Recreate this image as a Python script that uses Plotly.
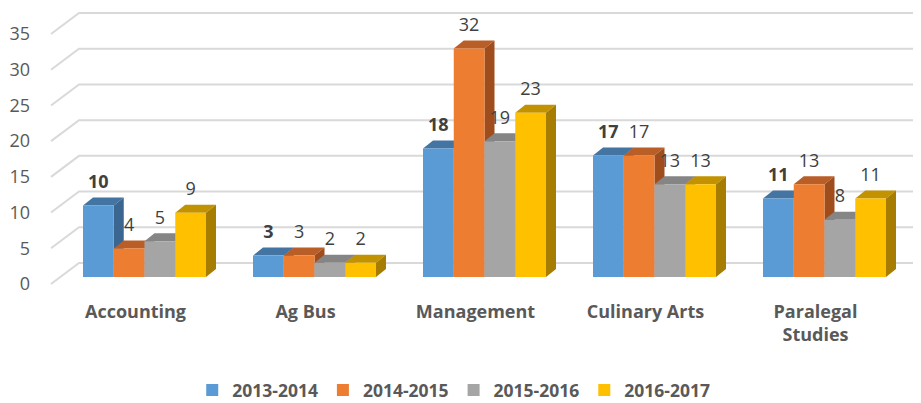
import plotly.graph_objects as go

# ---------------- data ----------------
categories = ["Accounting", "Ag Bus", "Management", "Culinary Arts", "Paralegal<br>Studies"]
series_names = ["2013-2014", "2014-2015", "2015-2016", "2016-2017"]
values_2013_2014 = [10, 3, 18, 17, 11]
values_2014_2015 = [4, 3, 32, 17, 13]
values_2015_2016 = [5, 2, 19, 13, 8]
values_2016_2017 = [9, 2, 23, 13, 11]
y_tick_values = [0, 5, 10, 15, 20, 25, 30, 35]

series_values = [values_2013_2014, values_2014_2015, values_2015_2016, values_2016_2017]

# ---------------- style ----------------
front_colors = ["#5B9BD5", "#ED7D31", "#A5A5A5", "#FFC000"]
top_colors = ["#4474A2", "#BA5E27", "#858585", "#C29200"]
side_colors = ["#3B6690", "#9F4D1C", "#767676", "#A67D00"]
grid_color = "#D9D9D9"
text_color = "#595959"
label_color = "#404040"
FONT = "Open Sans"

# page offset (default body margin of the html page)
OFS = 8
WIN_W, WIN_H = 921, 403
W, H = WIN_W - OFS, WIN_H - OFS

# plot area, in window pixels
P_LEFT, P_RIGHT, P_TOP, P_BOTTOM = 36, 921, 8, 290
M_L, M_R, M_T, M_B = P_LEFT - OFS, WIN_W - P_RIGHT, P_TOP - OFS, WIN_H - P_BOTTOM

PX_PER_CAT = 170.0      # pixels per category step
PX_PER_UNIT = 7.143     # pixels per value unit
ZERO_PX = 277.0         # window row of value 0 on the bars' front plane
CENTER0_PX = 144.5      # window column of the first group's centre

plot_h = P_BOTTOM - P_TOP
x_range = [(P_LEFT - CENTER0_PX) / PX_PER_CAT, (P_RIGHT - CENTER0_PX) / PX_PER_CAT]
y_range = [(ZERO_PX - P_BOTTOM) / PX_PER_UNIT, (ZERO_PX - P_TOP) / PX_PER_UNIT]

bargap = 0.2765
n_series = len(series_values)
bar_w = (1 - bargap) / n_series

# 3D offsets (in data units)
depth_dx = 10 / PX_PER_CAT
depth_dy = 8 / PX_PER_UNIT
floor_front_dx = -9 / PX_PER_CAT
floor_front_dy = -7 / PX_PER_UNIT
wall_front_x = (51 - CENTER0_PX) / PX_PER_CAT
wall_back_x = (79 - CENTER0_PX) / PX_PER_CAT
wall_back_dy = 14 / PX_PER_UNIT

fig = go.Figure()

# ---------------- walls / gridlines ----------------
gx, gy = [], []
for v in y_tick_values:
    gx += [wall_front_x, wall_back_x, x_range[1] + 0.05, None]
    gy += [v + floor_front_dy, v + wall_back_dy, v + wall_back_dy, None]
fig.add_trace(go.Scatter(x=gx, y=gy, mode="lines", line=dict(color=grid_color, width=2),
                         hoverinfo="skip", showlegend=False, xaxis="x", yaxis="y"))

# ---------------- top and side faces ----------------
for s, vals in enumerate(series_values):
    tx, ty, sx, sy = [], [], [], []
    for i, v in enumerate(vals):
        left = i - (1 - bargap) / 2 + s * bar_w
        right = left + bar_w
        tx += [left, right, right + depth_dx, left + depth_dx, left, None]
        ty += [v, v, v + depth_dy, v + depth_dy, v, None]
        sx += [right, right + depth_dx, right + depth_dx, right, right, None]
        sy += [0, depth_dy, v + depth_dy, v, 0, None]
    fig.add_trace(go.Scatter(x=tx, y=ty, mode="lines", fill="toself", fillcolor=top_colors[s],
                             line=dict(width=0, color=top_colors[s]), hoverinfo="skip",
                             showlegend=False, xaxis="x", yaxis="y"))
    fig.add_trace(go.Scatter(x=sx, y=sy, mode="lines", fill="toself", fillcolor=side_colors[s],
                             line=dict(width=0, color=side_colors[s]), hoverinfo="skip",
                             showlegend=False, xaxis="x", yaxis="y"))

# ---------------- front faces (bars) ----------------
idx = list(range(len(categories)))
for s, vals in enumerate(series_values):
    fig.add_trace(go.Bar(x=idx, y=vals, name=series_names[s],
                         marker=dict(color=front_colors[s], line=dict(width=0)),
                         xaxis="x2", yaxis="y2", hoverinfo="skip"))

# ---------------- data labels ----------------
label_dy = 22 / PX_PER_UNIT
for s, vals in enumerate(series_values):
    xs = [i - (1 - bargap) / 2 + s * bar_w + bar_w / 2 for i in idx]
    ys = [v + label_dy for v in vals]
    txt = [("<b>%d</b>" % v) if s == 0 else ("%d" % v) for v in vals]
    fig.add_trace(go.Scatter(x=xs, y=ys, mode="text", text=txt, textposition="middle center",
                             textfont=dict(family=FONT, size=18, color=label_color),
                             hoverinfo="skip", showlegend=False, xaxis="x2", yaxis="y2",
                             cliponaxis=False))

fig.update_layout(
    width=W, height=H,
    margin=dict(l=M_L, r=M_R, t=M_T, b=M_B, autoexpand=False),
    paper_bgcolor="white", plot_bgcolor="rgba(0,0,0,0)",
    barmode="group", bargap=bargap, bargroupgap=0,
    font=dict(family=FONT, color=text_color),
    xaxis=dict(range=x_range, tickmode="array",
               tickvals=[i + floor_front_dx for i in idx], ticktext=categories,
               tickfont=dict(family=FONT, size=18, color=text_color, weight="bold"),
               showgrid=False, zeroline=False, showline=False, ticks="", ticklabelstandoff=9),
    yaxis=dict(range=y_range, tickmode="array",
               tickvals=[v + floor_front_dy for v in y_tick_values],
               ticktext=[str(v) for v in y_tick_values],
               tickfont=dict(family=FONT, size=18, color=text_color),
               showgrid=False, zeroline=False, showline=False, ticks="", ticklabelstandoff=5),
    xaxis2=dict(range=x_range, overlaying="x", anchor="y2", visible=False),
    yaxis2=dict(range=y_range, overlaying="y", anchor="x2", visible=False),
    legend=dict(orientation="h", x=0.472, xanchor="center", y=(P_BOTTOM - 390) / plot_h,
                yanchor="middle", font=dict(family=FONT, size=17.5, color=text_color, weight="bold"),
                traceorder="normal"),
)

fig.write_html("out.html")
